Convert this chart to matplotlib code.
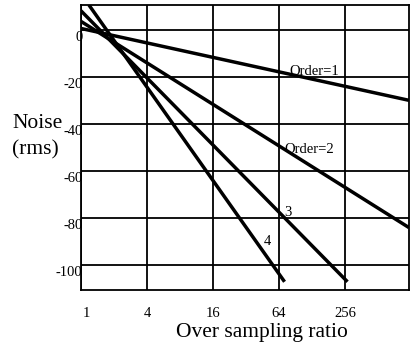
import matplotlib
matplotlib.use('Agg')
import matplotlib.pyplot as plt
import matplotlib.transforms as mtrans

# valeurs (extremites de chaque droite)
ratio_1 = [1, 982]
bruit_1 = [0.5, -30]
ratio_2 = [1, 982]
bruit_2 = [3.5, -84]
ratio_3 = [1, 270]
bruit_3 = [8, -107]
ratio_4 = [1.18, 72]
bruit_4 = [10.5, -107]

xticks = [1, 4, 16, 64, 256]
xtick_labels = ['1', '4', '16', '64', '256']
yticks = [0, -20, -40, -60, -80, -100]
ytick_labels = ['0', '-20', '-40', '-60', '-80', '-100']

plt.rcParams['font.family'] = ['Liberation Serif', 'DejaVu Serif']

fig = plt.figure(figsize=(4.11, 3.49), dpi=100)
ax = fig.add_axes([0.197, 0.169, 0.798, 0.817])

for r, b in [(ratio_1, bruit_1), (ratio_2, bruit_2), (ratio_3, bruit_3), (ratio_4, bruit_4)]:
    ax.plot(r, b, color='black', linewidth=2.5, solid_capstyle='butt', zorder=3)

ax.set_xscale('log', base=2)
ax.set_xlim(1, 982)
ax.set_ylim(-110.5, 10.5)
ax.set_xticks(xticks)
ax.set_xticklabels(xtick_labels, fontsize=10.5)
ax.set_yticks(yticks)
ax.set_yticklabels(ytick_labels, fontsize=10.5)
ax.minorticks_off()
ax.tick_params(length=0)
ax.tick_params(axis='y', pad=-1)
ax.tick_params(axis='x', pad=12)
ax.grid(True, color='black', linewidth=1.3)
for s in ax.spines.values():
    s.set_linewidth(1.3)

# decalage des etiquettes comme sur l'original
dy = mtrans.ScaledTranslation(0, -0.06, fig.dpi_scale_trans)
for lab in ax.get_yticklabels():
    lab.set_transform(lab.get_transform() + dy)
lab1 = ax.get_xticklabels()[0]
lab1.set_transform(lab1.get_transform() + mtrans.ScaledTranslation(0.05, 0, fig.dpi_scale_trans))

ax.text(80, -17.6, 'Order=1', fontsize=10.5, va='center', ha='left')
ax.text(72, -51, 'Order=2', fontsize=10.5, va='center', ha='left')
ax.text(77, -77.7, '3', fontsize=10.5, va='center', ha='center')
ax.text(50, -90, '4', fontsize=10.5, va='center', ha='center')

fig.text(12 / 411, 1 - 123 / 349, 'Noise', fontsize=15.5, va='center', ha='left')
fig.text(12 / 411, 1 - 150 / 349, '(rms)', fontsize=15.5, va='center', ha='left')
fig.text(262 / 411, 1 - 333 / 349, 'Over sampling ratio', fontsize=15.5, va='center', ha='center')

plt.savefig('out.png', dpi=100)
